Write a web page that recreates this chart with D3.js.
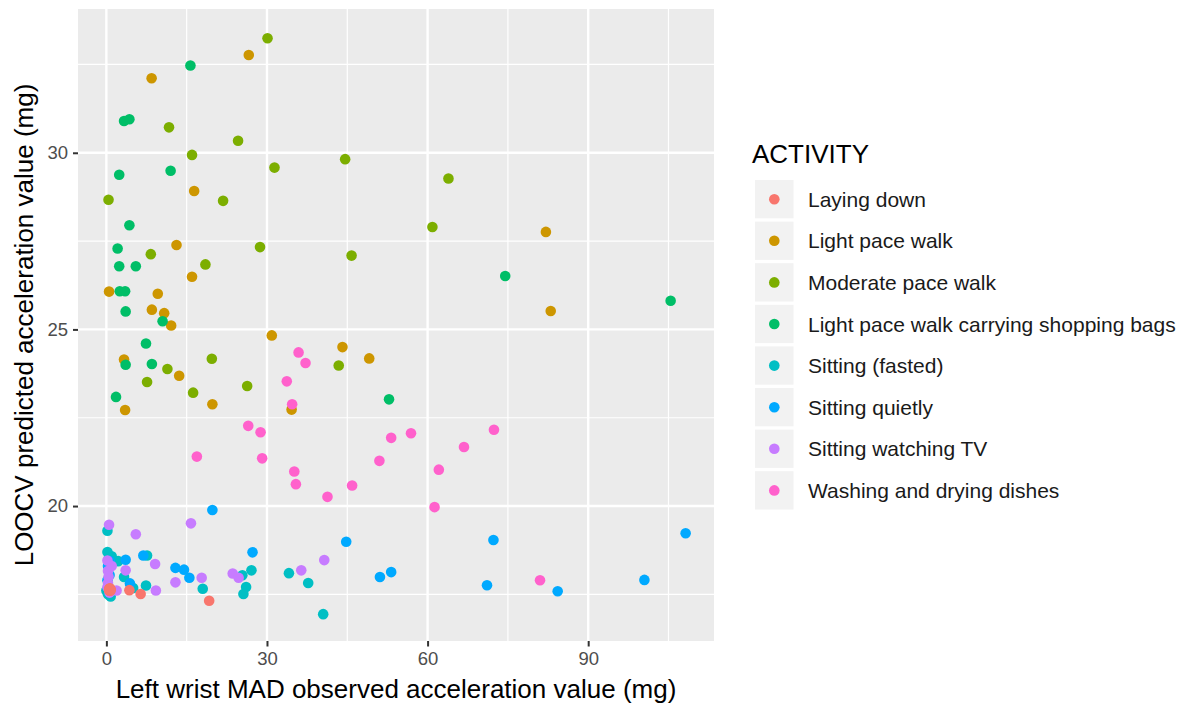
<!DOCTYPE html>
<html>
<head>
<meta charset="utf-8">
<script src="https://cdn.jsdelivr.net/npm/d3@7"></script>
<style>
  body { margin: 0; background: #fff; }
  text { font-family: "Liberation Sans", Arial, Helvetica, sans-serif; }
</style>
</head>
<body>
<div id="container"></div>
<script>
var activities = [
  "Laying down",
  "Light pace walk",
  "Moderate pace walk",
  "Light pace walk carrying shopping bags",
  "Sitting (fasted)",
  "Sitting quietly",
  "Sitting watching TV",
  "Washing and drying dishes"
];
var colours = ["#F8766D", "#CD9600", "#7CAE00", "#00BE67", "#00BFC4", "#00A9FF", "#C77CFF", "#FF61CC"];

// [observed, predicted] per participant
var layingDown = [[0.65, 17.64], [4.3, 17.62], [6.4, 17.51], [19.2, 17.32], [0.6, 17.63], [0.7, 17.65],
  [0.55, 17.62], [0.75, 17.64], [0.65, 17.61], [0.6, 17.66], [0.7, 17.62], [0.5, 17.64], [0.8, 17.63],
  [0.65, 17.67], [0.6, 17.6], [0.75, 17.61], [0.55, 17.65], [0.7, 17.66], [0.65, 17.63], [0.6, 17.64]];
var lightWalk = [[8.45, 32.11], [26.6, 32.77], [16.4, 28.92], [13.1, 27.39], [16.0, 26.49], [0.5, 26.07],
  [9.6, 26.01], [8.5, 25.56], [10.8, 25.46], [12.1, 25.11], [30.9, 24.83], [3.3, 24.15], [13.6, 23.69],
  [19.8, 22.88], [3.5, 22.72], [44.1, 24.5], [49.1, 24.18], [34.6, 22.73], [82.1, 27.76], [83.0, 25.52]];
var moderateWalk = [[30.1, 33.24], [11.7, 30.72], [24.6, 30.34], [16.0, 29.94], [44.6, 29.82], [31.4, 29.58],
  [0.4, 28.67], [21.8, 28.64], [8.3, 27.13], [28.7, 27.33], [45.8, 27.09], [18.5, 26.84], [11.4, 23.88],
  [19.7, 24.17], [7.6, 23.51], [16.2, 23.21], [26.3, 23.4], [43.4, 23.98], [63.9, 29.27], [60.9, 27.9]];
var shoppingBags = [[15.7, 32.47], [3.3, 30.9], [4.3, 30.95], [2.4, 29.38], [12.0, 29.49], [4.3, 27.95],
  [2.1, 27.29], [2.4, 26.79], [5.5, 26.79], [2.5, 26.08], [3.5, 26.08], [3.6, 25.51], [10.5, 25.23],
  [7.4, 24.6], [3.6, 24.0], [8.5, 24.02], [1.8, 23.09], [52.8, 23.02], [74.5, 26.51], [105.4, 25.81]];
var sittingFasted = [[0.2, 19.3], [0.2, 18.7], [1.0, 18.58], [2.2, 18.44], [3.3, 17.99], [5.0, 17.68],
  [7.4, 17.75], [0.8, 17.44], [18.0, 17.66], [25.4, 18.04], [27.1, 18.18], [26.1, 17.71], [25.6, 17.51],
  [34.1, 18.1], [37.7, 17.82], [40.5, 16.94], [7.6, 18.6], [0.0, 17.61], [0.5, 18.55], [0.3, 17.5]];
var sittingQuietly = [[19.8, 19.89], [44.8, 18.99], [27.3, 18.69], [6.9, 18.6], [3.6, 18.48], [12.9, 18.25],
  [14.5, 18.2], [15.5, 17.97], [4.4, 17.81], [51.1, 17.99], [53.2, 18.13], [72.3, 19.04], [71.1, 17.76],
  [84.3, 17.59], [100.5, 17.91], [108.2, 19.23], [0.65, 18.44], [0.3, 18.3], [0.6, 18.05], [0.2, 17.9]];
var watchingTV = [[0.5, 19.47], [5.5, 19.2], [15.8, 19.51], [40.7, 18.47], [0.2, 18.46], [9.1, 18.36],
  [0.3, 18.16], [3.6, 18.18], [0.3, 17.82], [1.9, 17.61], [9.25, 17.61], [12.9, 17.84], [17.8, 17.97],
  [23.6, 18.09], [24.7, 17.97], [36.4, 18.18], [0.4, 18.0], [0.2, 17.7], [1.0, 18.3], [0.6, 17.55]];
var washingDishes = [[35.9, 24.35], [37.2, 24.05], [33.7, 23.53], [34.7, 22.88], [26.5, 22.27], [28.8, 22.09],
  [16.9, 21.4], [29.1, 21.35], [35.1, 20.98], [35.4, 20.62], [41.3, 20.26], [45.9, 20.58], [51.0, 21.28],
  [53.2, 21.93], [56.9, 22.06], [62.1, 21.03], [66.8, 21.67], [72.4, 22.16], [61.3, 19.97], [81.0, 17.9]];

var xTicks = [0, 30, 60, 90];
var xMinor = [15, 45, 75, 105];
var yTicks = [20, 25, 30];
var yMinor = [17.5, 22.5, 27.5, 32.5];

var series = [layingDown, lightWalk, moderateWalk, shoppingBags, sittingFasted, sittingQuietly, watchingTV, washingDishes];

var W = 1189, H = 707;
var panel = { left: 78, right: 714, top: 9, bottom: 641 };

var svg = d3.select("#container").append("svg")
  .attr("width", W).attr("height", H);

var x = d3.scaleLinear().domain([-5.3, 113.5]).range([panel.left, panel.right]);
var y = d3.scaleLinear().domain([16.18, 34.07]).range([panel.bottom, panel.top]);

svg.append("rect")
  .attr("x", panel.left).attr("y", panel.top)
  .attr("width", panel.right - panel.left).attr("height", panel.bottom - panel.top)
  .attr("fill", "#EBEBEB");

// minor grid
svg.selectAll("line.xminor").data(xMinor).enter().append("line")
  .attr("x1", d => x(d)).attr("x2", d => x(d))
  .attr("y1", panel.top).attr("y2", panel.bottom)
  .attr("stroke", "#fff").attr("stroke-width", 1.2);
svg.selectAll("line.yminor").data(yMinor).enter().append("line")
  .attr("y1", d => y(d)).attr("y2", d => y(d))
  .attr("x1", panel.left).attr("x2", panel.right)
  .attr("stroke", "#fff").attr("stroke-width", 1.2);
// major grid
svg.selectAll("line.xmajor").data(xTicks).enter().append("line")
  .attr("x1", d => x(d)).attr("x2", d => x(d))
  .attr("y1", panel.top).attr("y2", panel.bottom)
  .attr("stroke", "#fff").attr("stroke-width", 2.4);
svg.selectAll("line.ymajor").data(yTicks).enter().append("line")
  .attr("y1", d => y(d)).attr("y2", d => y(d))
  .attr("x1", panel.left).attr("x2", panel.right)
  .attr("stroke", "#fff").attr("stroke-width", 2.4);

// points, laying down drawn on top
var order = [1, 2, 3, 4, 5, 6, 7, 0];
order.forEach(function(i) {
  svg.append("g").selectAll("circle")
    .data(series[i])
    .enter().append("circle")
    .attr("cx", d => x(d[0]))
    .attr("cy", d => y(d[1]))
    .attr("r", 5.3)
    .attr("fill", colours[i]);
});

// axes
var xAxis = svg.append("g")
  .attr("transform", "translate(0," + panel.bottom + ")")
  .call(d3.axisBottom(x).tickValues(xTicks).tickSize(5.5).tickPadding(5));
var yAxis = svg.append("g")
  .attr("transform", "translate(" + panel.left + ",0)")
  .call(d3.axisLeft(y).tickValues(yTicks).tickSize(5).tickPadding(5));
[xAxis, yAxis].forEach(function(a) {
  a.select(".domain").remove();
  a.selectAll(".tick line").attr("stroke", "#333").attr("stroke-width", 2);
  a.selectAll(".tick text")
    .attr("fill", "#4D4D4D")
    .style("font-size", "18.5px")
    .style("font-family", '"Liberation Sans", Arial, sans-serif');
});

svg.append("text")
  .attr("x", (panel.left + panel.right) / 2).attr("y", 698)
  .attr("text-anchor", "middle")
  .style("font-size", "26px")
  .text("Left wrist MAD observed acceleration value (mg)");

svg.append("text")
  .attr("transform", "translate(33," + (panel.top + panel.bottom) / 2 + ") rotate(-90)")
  .attr("text-anchor", "middle")
  .style("font-size", "26px")
  .text("LOOCV predicted acceleration value (mg)");

// legend
var legend = svg.append("g");
legend.append("text")
  .attr("x", 752).attr("y", 163)
  .style("font-size", "26px")
  .text("ACTIVITY");

var rows = legend.selectAll("g.row").data(activities).enter().append("g")
  .attr("transform", (d, i) => "translate(755," + (180 + i * 41.6) + ")");
rows.append("rect")
  .attr("width", 38.5).attr("height", 38.3)
  .attr("fill", "#F2F2F2");
rows.append("circle")
  .attr("cx", 19.3).attr("cy", 19.2).attr("r", 5.3)
  .attr("fill", (d, i) => colours[i]);
rows.append("text")
  .attr("x", 53).attr("y", 19.2).attr("dy", "0.36em")
  .style("font-size", "21px")
  .attr("fill", "#1A1A1A")
  .text(d => d);
</script>
</body>
</html>
